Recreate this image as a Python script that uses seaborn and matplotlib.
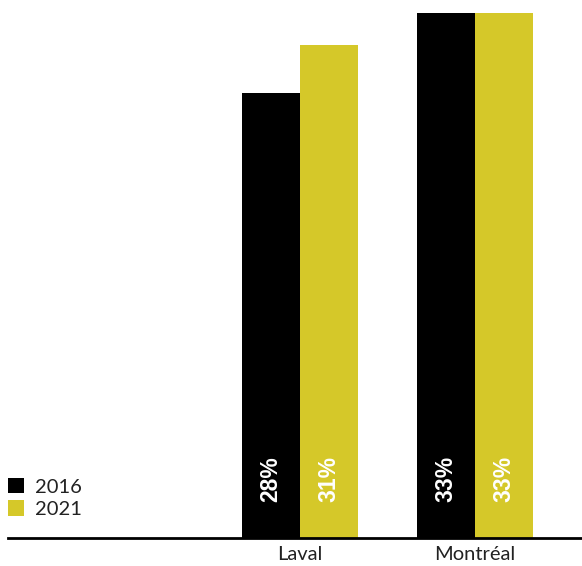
import seaborn as sns
import matplotlib.pyplot as plt
import pandas as pd
from matplotlib.patches import Patch

# Data
cities = ["Laval", "Montréal"]
years = ["2016", "2021"]
values_2016 = [28, 33]
values_2021 = [31, 33]
colors = ["#000000", "#D5C829"]

df = pd.DataFrame({
    "city": cities * 2,
    "year": [years[0]] * 2 + [years[1]] * 2,
    "value": values_2016 + values_2021,
})

sns.set_style("white")
plt.rcParams["font.family"] = ["Lato", "DejaVu Sans"]

fig = plt.figure(figsize=(5.82, 5.66), dpi=100)
ax = fig.add_axes([8 / 582, 28 / 566, 574 / 582, 538 / 566])

sns.barplot(data=df, x="city", y="value", hue="year", palette=colors,
            width=0.663, saturation=1, linewidth=0, ax=ax, legend=False)

ax.set_ylim(0, 33.82)
ax.set_xlim(-1.669, 1.611)

# labels inside bars, near the bottom
for container in ax.containers:
    for bar, v in zip(container, container.datavalues):
        ax.annotate(f"{v:.0f}%", (bar.get_x() + bar.get_width() / 2, 0),
                    xytext=(0, 26), textcoords="offset points",
                    rotation=90, ha="center", va="bottom",
                    color="white", fontsize=16.5, fontweight="bold",
                    family=["Liberation Sans", "DejaVu Sans"])

for s in ["top", "right", "left"]:
    ax.spines[s].set_visible(False)
ax.spines["bottom"].set_linewidth(2)
ax.spines["bottom"].set_color("black")
ax.set_yticks([])
ax.set_xlabel("")
ax.set_ylabel("")
ax.tick_params(axis="x", length=0, labelsize=14.5, pad=6, labelcolor="#222222")

# legend
handles = [Patch(facecolor=c, edgecolor="none") for c in colors]
fig.legend(handles, years, loc="upper left", bbox_to_anchor=(8 / 582, 1 - 478 / 566),
           frameon=False, fontsize=14.5, handlelength=0.8, handleheight=0.8,
           handletextpad=0.55, labelspacing=0.22, borderpad=0, borderaxespad=0,
           labelcolor="#222222")

fig.savefig("out.png", dpi=100)
